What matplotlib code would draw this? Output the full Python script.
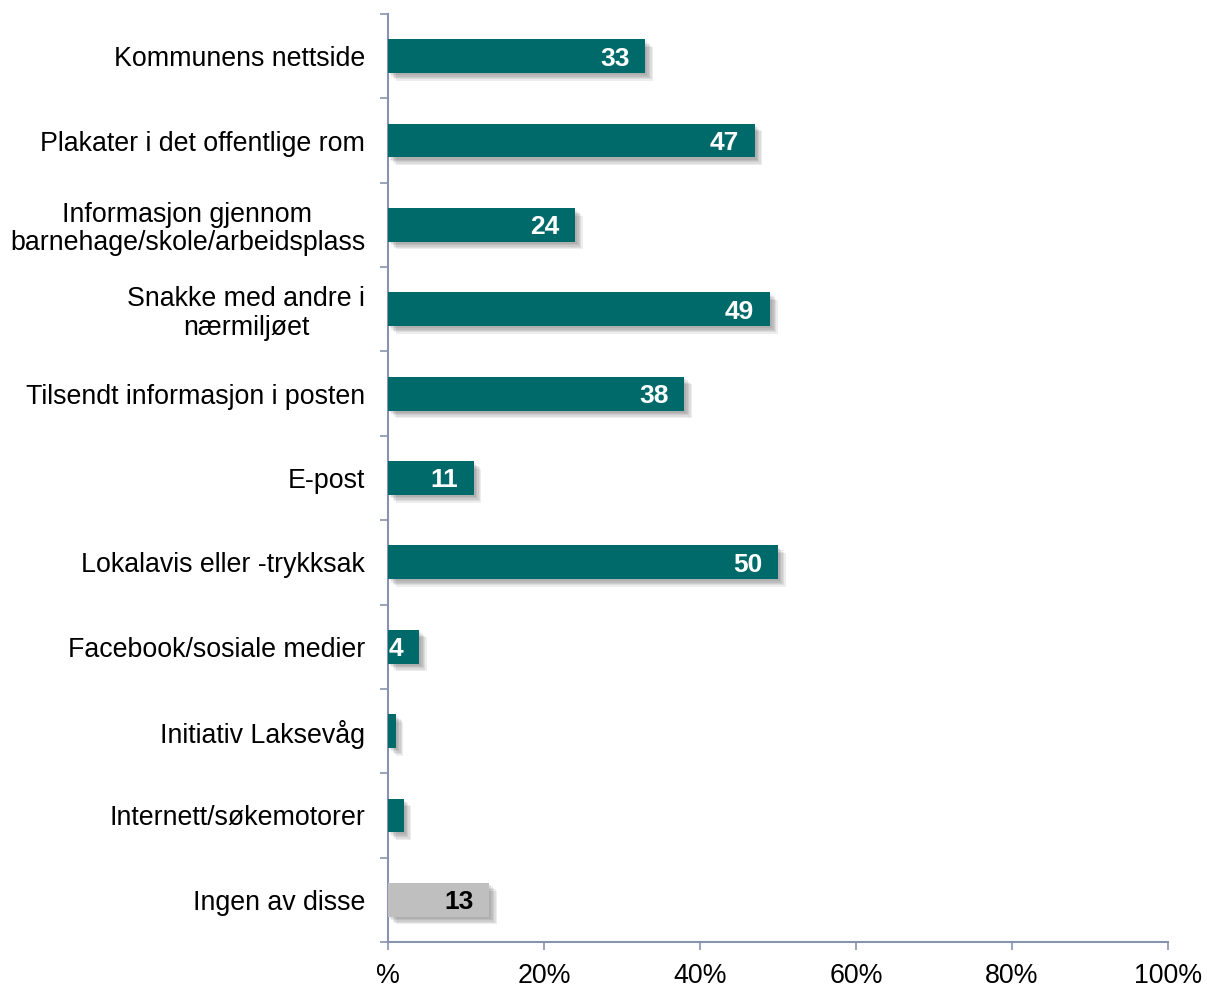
import matplotlib
matplotlib.use("Agg")
import matplotlib.pyplot as plt
import matplotlib.patheffects as pe

categories = [
    "Kommunens nettside",
    "Plakater i det offentlige rom",
    "Informasjon gjennom\nbarnehage/skole/arbeidsplass",
    "Snakke med andre i\nnærmiljøet",
    "Tilsendt informasjon i posten",
    "E-post",
    "Lokalavis eller -trykksak",
    "Facebook/sosiale medier",
    "Initiativ Laksevåg",
    "Internett/søkemotorer",
    "Ingen av disse",
]
values = [33, 47, 24, 49, 38, 11, 50, 4, 1, 2, 13]
xticks = [0, 20, 40, 60, 80, 100]
xticklabels = ["%", "20%", "40%", "60%", "80%", "100%"]

teal = "#006A6B"
grey = "#BFBFBF"
axis_col = "#8A93AD"
colors = [teal] * (len(values) - 1) + [grey]
label_colors = ["white"] * (len(values) - 1) + ["black"]

plt.rcParams["font.family"] = ["Liberation Sans", "DejaVu Sans"]

fig = plt.figure(figsize=(12.07, 9.88), dpi=100)
ax = fig.add_axes([388 / 1207, 1 - 942 / 988, (1168 - 388) / 1207, (942 - 14) / 988])

n = len(categories)
ypos = list(range(n))
shadow = [pe.SimplePatchShadow(offset=(o, -o), shadow_rgbFace="#000000", alpha=0.07)
          for o in (1.5, 2.5, 3.5, 4.5, 5.5)] + [pe.Normal()]
bars = ax.barh(ypos, values, height=0.4, color=colors, zorder=3)
for b in bars:
    b.set_path_effects(shadow)

for b, v, c in zip(bars, values, label_colors):
    if v >= 3:
        ax.annotate(str(v), xy=(b.get_width(), b.get_y() + b.get_height() / 2),
                    xytext=(-16, 0), textcoords="offset pixels",
                    ha="right", va="center_baseline", color=c, fontsize=19,
                    fontweight="bold", zorder=4)

ax.set_xlim(0, 100)
ax.set_ylim(n - 0.5, -0.5)
ax.set_xticks(xticks)
ax.set_xticklabels(xticklabels, fontsize=19.3)
ax.set_yticks(ypos)
ax.set_yticklabels(categories, fontsize=19.3)
for lbl in ax.get_yticklabels():
    lbl.set_multialignment("center")
    lbl.set_linespacing(1.12)
ax.tick_params(axis="y", length=0, pad=16.5)
ax.set_yticks([i - 0.5 for i in range(n + 1)], minor=True)
ax.tick_params(axis="y", which="minor", length=6, width=1.2, color=axis_col)
ax.tick_params(axis="x", length=6, width=1.2, color=axis_col, pad=9)

for s in ["top", "right"]:
    ax.spines[s].set_visible(False)
for s in ["left", "bottom"]:
    ax.spines[s].set_color(axis_col)
    ax.spines[s].set_linewidth(1.5)

fig.savefig("out.png", dpi=100)
